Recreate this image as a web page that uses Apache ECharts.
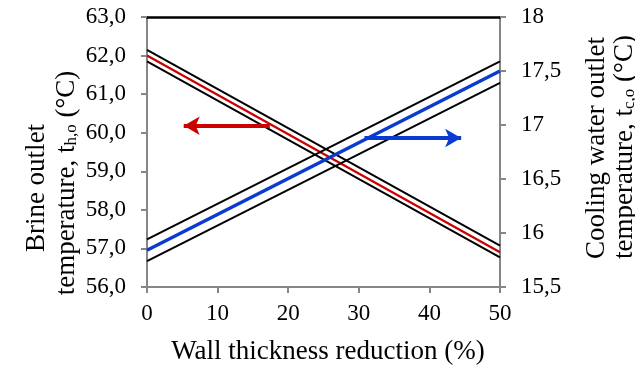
<!DOCTYPE html>
<html>
<head>
<meta charset="utf-8">
<script src="https://cdn.jsdelivr.net/npm/echarts@6/dist/echarts.min.js"></script>
<style>
  html, body { margin: 0; padding: 0; background: #fff; }
  #chart { width: 635px; height: 369px; }
</style>
</head>
<body>
<div id="chart"></div>
<script>
    // wall thickness reduction (%)
    var reduction = [0, 50];
    // brine outlet temperature (left axis) + bounds
    var brine = [62.0, 56.9];
    var brineUpper = [62.15, 57.07];
    var brineLower = [61.85, 56.77];
    // cooling water outlet temperature (right axis) + bounds
    var cooling = [15.84, 17.5];
    var coolingUpper = [15.94, 17.59];
    var coolingLower = [15.74, 17.39];
    // arrows: [xFrom, xTo, y]
    var brineArrow = [17.4, 5.2, 60.18];
    var coolingArrow = [30.8, 44.5, 16.88];

    function pairs(xs, ys) {
        var out = [];
        for (var i = 0; i < xs.length; i++) out.push([xs[i], ys[i]]);
        return out;
    }

    var font = 'Liberation Serif, Times New Roman, serif';
    var gray = '#868686';

    var line = function (name, data, color, width, axis, markLine) {
        var s = {
            name: name, type: 'line', data: pairs(reduction, data),
            yAxisIndex: axis, showSymbol: false, symbol: 'none',
            lineStyle: { color: color, width: width }, z: width > 2.5 ? 4 : 3,
            silent: true, animation: false
        };
        if (markLine) s.markLine = markLine;
        return s;
    };

    var arrow = function (a, color) {
        return {
            silent: true, animation: false,
            symbol: ['none', 'arrow'], symbolSize: [14, 16],
            lineStyle: { color: color, width: 4, type: 'solid' },
            label: { show: false },
            data: [[{ coord: [a[0], a[2]] }, { coord: [a[1], a[2]] }]]
        };
    };

    var tickLabel = { color: '#000', fontFamily: font, fontSize: 23 };

    var option = {
        backgroundColor: '#fff',
        animation: false,
        grid: { left: 147, right: 135, top: 17, bottom: 82 },
        xAxis: [{
            type: 'value', min: 0, max: 50, interval: 10,
            axisLine: { onZero: false, lineStyle: { color: gray, width: 2 } },
            axisTick: { show: true, length: 6, lineStyle: { color: gray, width: 2 } },
            axisLabel: Object.assign({ margin: 15 }, tickLabel),
            splitLine: { show: false }
        }, {
            type: 'value', min: 0, max: 50, position: 'top',
            axisLine: { show: true, onZero: false, lineStyle: { color: '#000', width: 2.5 } },
            axisTick: { show: false }, axisLabel: { show: false }, splitLine: { show: false }
        }],
        yAxis: [{
            type: 'value', min: 56, max: 63, interval: 1,
            axisLine: { show: true, onZero: false, lineStyle: { color: gray, width: 2 } },
            axisTick: { show: true, length: 6, lineStyle: { color: gray, width: 2 } },
            axisLabel: Object.assign({
                margin: 21,
                formatter: function (v) { return v.toFixed(1).replace('.', ','); }
            }, tickLabel),
            splitLine: { show: false }
        }, {
            type: 'value', min: 15.5, max: 18, interval: 0.5, position: 'right',
            axisLine: { show: true, onZero: false, lineStyle: { color: gray, width: 2 } },
            axisTick: { show: true, length: 6, lineStyle: { color: gray, width: 2 } },
            axisLabel: Object.assign({
                margin: 21,
                formatter: function (v) { return String(v).replace('.', ','); }
            }, tickLabel),
            splitLine: { show: false }
        }],
        series: [
            line('brineUpper', brineUpper, '#000', 2, 0),
            line('brineLower', brineLower, '#000', 2, 0),
            line('brine', brine, '#cc0000', 2.2, 0, arrow(brineArrow, '#cc0000')),
            line('coolingUpper', coolingUpper, '#000', 2, 1),
            line('coolingLower', coolingLower, '#000', 2, 1),
            line('cooling', cooling, '#0a3bd0', 3.5, 1, arrow(coolingArrow, '#0a3bd0'))
        ],
        graphic: [
            {
                type: 'text', x: 328, y: 352,
                style: { text: 'Wall thickness reduction (%)', font: '27px ' + font, fill: '#000', align: 'center', verticalAlign: 'middle' }
            },
            {
                type: 'text', x: 37, y: 188, rotation: Math.PI / 2,
                style: { text: 'Brine outlet', font: '27px ' + font, fill: '#000', align: 'center', verticalAlign: 'middle' }
            },
            {
                type: 'text', x: 67, y: 183, rotation: Math.PI / 2,
                style: {
                    text: '{n|temperature, t}{s|h,o}{n| (°C)}',
                    align: 'center', verticalAlign: 'middle',
                    rich: {
                        n: { font: '27px ' + font, fill: '#000', verticalAlign: 'middle' },
                        s: { font: '17px ' + font, fill: '#000', verticalAlign: 'bottom', padding: [10, 0, 0, 0] }
                    }
                }
            },
            {
                type: 'text', x: 597, y: 148, rotation: Math.PI / 2,
                style: { text: 'Cooling water outlet', font: '27px ' + font, fill: '#000', align: 'center', verticalAlign: 'middle' }
            },
            {
                type: 'text', x: 625, y: 147, rotation: Math.PI / 2,
                style: {
                    text: '{n|temperature, t}{s|c,o}{n| (°C)}',
                    align: 'center', verticalAlign: 'middle',
                    rich: {
                        n: { font: '27px ' + font, fill: '#000', verticalAlign: 'middle' },
                        s: { font: '17px ' + font, fill: '#000', verticalAlign: 'bottom', padding: [10, 0, 0, 0] }
                    }
                }
            }
        ]
    };

    echarts.init(document.getElementById('chart')).setOption(option, true);
</script>
</body>
</html>
